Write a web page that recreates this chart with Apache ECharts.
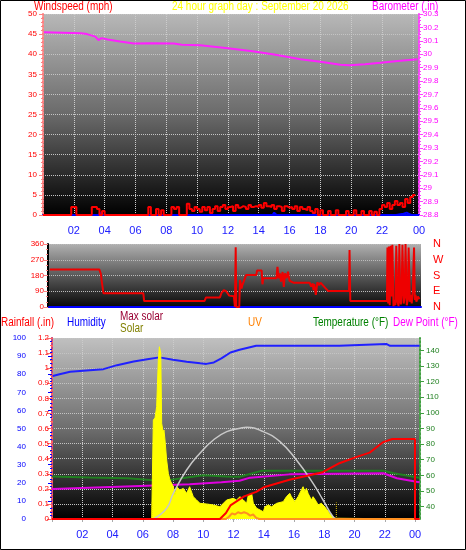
<!DOCTYPE html>
<html><head><meta charset="utf-8">
<script src="https://cdn.jsdelivr.net/npm/echarts@6/dist/echarts.min.js"></script>
<style>html,body{margin:0;padding:0;background:#fff}#c{width:466px;height:550px}</style>
</head><body><div id="c"></div>
<script>
// ---------- tick labels ----------
const hourTickLabels = ['02','04','06','08','10','12','14','16','18','20','22','00'];
const dirLabels = {0:'N',90:'E',180:'S',270:'W',360:'N'};
const tempTicks = [40,50,60,70,80,90,100,110,120,130,140];

// ---------- panel 1: wind speed (10-minute steps from 00:00) and barometer ----------
const windGust = [
 0,0,0,0,0,0,0,0,0,0,0,0,
 2,2,0,0,0,0,0,0,
 2,2,1.5,0,1,0,
 0,0,0,0,0,0,0,0,0,0,0,0,0,0,0,0,
 2,0,0,1.5,0,1.2,0,0,0,
 2,1.5,2,0,0,0,
 2.8,1.5,1,2,1.5,0.8,2,1.2,2,0.5,1.5,2.2,1,2,2.5,1.5,2,2.2,1,2.5,1.8,2.2,2,1.5,2.5,2,2.2,
 2,2.5,1.8,3,2.2,2,2.5,1.5,2.2,2,1,2.2,1.8,2,1.5,2.2,1,2,1.5,1.2,2,1,0.5,1.5,
 0,1.2,0,0,1,0,0,1.2,0,0,0,1,0,0,1.2,0,0,1,0,0,1,0,0.8,0,
 1.5,2.5,2,3,1.5,2.5,3.5,2.5,3,2,4,3,4.5,5
];
const windAvg = [[0,0],[3.6,0],[3.75,0.5],[3.9,0],[14.9,0],[15.0,0.6],[15.15,0],[22.7,0],[22.8,0.3],[22.9,0],[23.4,0.3],[23.6,0.6],[23.75,0.3],[23.9,0],[24.3,0]];
const barometer = [[0.06,30.163],[2.46,30.157],[2.85,30.15],[3.4,30.131],[3.6,30.105],[3.8,30.12],[4.2,30.109],[5.0,30.094],[5.9,30.079],[7.0,30.082],[8.5,30.079],[9.0,30.071],[10.2,30.067],[11.1,30.056],[12.0,30.045],[13.6,30.022],[14.9,30.0],[16.0,29.977],[16.7,29.962],[18.0,29.944],[19.3,29.921],[19.9,29.917],[20.9,29.925],[21.9,29.936],[23.2,29.951],[24.3,29.962]];

// ---------- panel 2: wind direction ----------
const windDir = [[0.5,215],[3.7,215],[3.8,190],[3.85,154],[3.97,78],[6.55,78],[6.6,34],[10.5,34],[10.6,55],[11.5,55],[11.6,80],[11.75,97],[11.9,90],[12.1,65],[12.4,62],[12.47,0],[12.52,341],[12.56,0],[12.75,0],[12.8,154],[12.9,105],[12.95,125],[13.05,117],[13.2,183],[13.85,183],[13.9,208],[14.2,208],[14.25,130],[14.3,164],[15.15,164],[15.22,230],[15.3,164],[15.38,192],[15.45,145],[15.55,200],[15.63,115],[15.7,192],[15.8,164],[15.9,202],[16.0,150],[16.25,139],[17.3,139],[17.4,116],[17.5,135],[17.55,97],[17.6,130],[17.7,69],[17.8,141],[17.9,125],[18.0,139],[18.1,135],[18.5,91],[19.85,91],[19.88,326],[19.93,34],[22.3,34],[22.33,340],[22.38,20],[22.42,345],[22.48,10],[22.55,350],[22.6,60],[22.65,355],[22.72,5],[22.8,40],[22.85,10],[22.9,350],[22.98,30],[23.05,5],[23.1,360],[23.15,50],[23.2,15],[23.25,80],[23.3,355],[23.38,20],[23.45,60],[23.5,360],[23.58,10],[23.65,45],[23.7,340],[23.78,30],[23.85,70],[23.9,20],[23.97,90],[24.05,340],[24.1,40],[24.15,70],[24.2,30],[24.3,60],[24.4,45]];

// ---------- panel 3 ----------
const humidity = [[0.05,79],[0.5,80],[1.2,81.3],[2.5,82.2],[3.4,82.8],[4.3,85],[5.4,87],[6.3,88.3],[7.1,89.3],[8.0,88],[8.9,86.9],[9.8,86],[10.2,85.7],[10.7,86.5],[11.2,88.7],[11.8,92],[12.4,93.5],[13.5,95.7],[19.0,95.7],[19.05,96.7],[22.1,96.7],[22.35,95.7],[24.3,95.7]];
const temperature = [[0,59.3],[2.5,58.6],[5,58.1],[6.5,57],[7.5,56.6],[8.8,58.5],[10,60],[11.5,59.3],[12.4,59.1],[13.9,63],[21.9,63],[22.6,61.3],[24.1,58.7],[24.3,58.5]];
const dewPoint = [[0,51.2],[5.8,53.2],[9.1,54.2],[11.2,55.5],[12.4,56.5],[13.1,58.5],[15.7,60.6],[21.9,61.3],[22.8,58.1],[24.1,55.9],[24.3,55.6]];
const rainfall = [[0,0],[11.1,0],[11.5,0.04],[11.8,0.09],[12.4,0.13],[12.7,0.15],[13.5,0.18],[14.0,0.21],[15.7,0.26],[17.9,0.31],[19.0,0.37],[20.1,0.41],[21.0,0.44],[21.9,0.51],[22.5,0.53],[24.0,0.53],[24.0,0],[24.3,0]];
const solar = [[0,0],[6.59,0],[6.7,656],[6.81,670],[6.92,745],[7.03,1054],[7.1,1142],[7.19,1099],[7.25,635],[7.36,568],[7.4,590],[7.47,524],[7.58,391],[7.69,303],[7.8,259],[8.02,214],[8.13,159],[8.24,214],[8.46,192],[8.68,203],[8.9,170],[9.1,214],[9.34,148],[9.56,126],[9.78,104],[10.2,100],[10.67,93],[11.1,81],[11.55,126],[11.99,137],[12.2,126],[12.43,148],[12.65,126],[12.87,104],[12.98,159],[13.2,170],[13.31,104],[13.53,71],[13.75,60],[13.97,48],[14.08,81],[14.3,93],[14.52,81],[14.85,104],[15.29,115],[15.5,148],[15.72,170],[15.83,148],[16.05,115],[16.27,148],[16.49,192],[16.6,214],[16.71,181],[16.82,203],[16.93,170],[17.15,126],[17.26,148],[17.48,115],[17.59,93],[17.81,104],[18.03,81],[18.36,38],[18.69,5],[18.8,0],[24.3,0]];
const maxSolar = [[6.7,0],[7.58,71],[8.02,170],[8.9,325],[9.78,436],[10.67,524],[11.55,579],[12.43,601],[12.87,608],[13.97,579],[15.07,513],[16.16,391],[17.26,236],[17.92,126],[18.58,15],[18.8,0]];
const uvIndex = [[0,0],[11.5,0],[11.7,0.2],[11.9,0.5],[12.1,0.4],[12.3,0.6],[12.5,0.5],[12.7,0.6],[12.9,0.5],[13.1,0.3],[13.3,0.4],[13.5,0.1],[13.7,0],[24.3,0]];
const sunrise = [[6.6,0],[6.6,110]];
const sunset = [[18.8,0],[18.8,110]];

// ---------- build ----------
const FF = 'Liberation Sans';
const windPts = windGust.map((v,i)=>[i/6, v]);
function bg(top, mid, bot){
  return new echarts.graphic.LinearGradient(0,0,0,1,[{offset:0,color:top},{offset:0.5,color:mid},{offset:1,color:bot}]);
}
const dotted = c => ({show:true, lineStyle:{color:c, type:'dotted', width:1}});
const hourFmt = v => (v===0 ? '' : hourTickLabels[Math.round(v/2)-1] || '');

const chart = echarts.init(document.getElementById('c'), null, {renderer:'canvas'});
const txt = (t,x,y,c) => ({type:'text', x:x, y:y, scaleX:0.83, z:50,
  style:{text:t, fill:c, fontSize:12, fontFamily:FF, verticalAlign:'middle', align:'left'}});
chart.setOption({
  animation:false,
  backgroundColor:'#fff',
  textStyle:{fontFamily:FF},
  grid:[
    {left:43, top:14, width:376, height:201, show:true, borderWidth:0, backgroundColor:bg('#b8b8b8','#6a6a6a','#000000')},
    {left:49, top:244, width:372, height:63, show:true, borderWidth:0, backgroundColor:bg('#b0b0b0','#5a5a5a','#080808')},
    {left:52, top:338, width:368, height:181, show:true, borderWidth:0, backgroundColor:bg('#c0c0c0','#6e6e6e','#000000')}
  ],
  graphic:[
    {type:'rect', shape:{x:0.5,y:0.5,width:465,height:549}, style:{fill:'none', stroke:'#000', lineWidth:1}, z:100},
    txt('Windspeed (mph)',34,7,'#ff0000'),
    txt('24 hour graph day : September 20 2026',172,7,'#ffff00'),
    txt('Barometer (.in)',372,7,'#ff00ff'),
    txt('Rainfall (.in)',1,323,'#ff0000'),
    txt('Humidity',67,323,'#0000ff'),
    txt('Max solar',120,317,'#990033'),
    txt('Solar',120,329,'#808000'),
    txt('UV',248,323,'#ff8000'),
    txt('Temperature (°F)',313,323,'#008000'),
    txt('Dew Point (°F)',393,323,'#ff00ff')
  ],
  xAxis:[
    {gridIndex:0, type:'value', min:0, max:24.4, interval:2, offset:2,
     axisLine:{show:true, lineStyle:{color:'#0000ff', width:2}}, axisTick:{show:false},
     axisLabel:{formatter:hourFmt, color:'#2020ff', fontSize:11, margin:8, showMaxLabel:true},
     splitLine:dotted('#cccccc')},
    {gridIndex:1, type:'value', min:0.45, max:24.5,
     axisLine:{show:true, lineStyle:{color:'#0000ff', width:2}}, axisTick:{show:false},
     axisLabel:{show:false}, splitLine:{show:false}},
    {gridIndex:2, type:'value', min:0, max:24.33, interval:2,
     axisLine:{show:false}, axisTick:{show:true, length:3, lineStyle:{color:'#aaaaaa'}},
     axisLabel:{formatter:hourFmt, color:'#2020ff', fontSize:11, margin:10},
     splitLine:dotted('#cccccc')}
  ],
  yAxis:[
    {gridIndex:0, type:'value', min:0, max:50, interval:5, position:'left', offset:2,
     axisLine:{show:true, lineStyle:{color:'#ff8080', type:'dotted', width:2}},
     axisTick:{show:true, length:4, lineStyle:{color:'#ff8080'}},
     minorTick:{show:true, splitNumber:5, length:2, lineStyle:{color:'#ff8080'}},
     axisLabel:{color:'#ff0000', fontSize:8, margin:4},
     splitLine:dotted('#c4c4c4')},
    {gridIndex:0, type:'value', min:28.8, max:30.3, interval:0.1, position:'right',
     axisLine:{show:true, lineStyle:{color:'#ff40ff', type:'dotted', width:2}},
     axisTick:{show:true, length:4, lineStyle:{color:'#ff40ff'}},
     minorTick:{show:true, splitNumber:4, length:2, lineStyle:{color:'#ff40ff'}},
     axisLabel:{color:'#ff00ff', fontSize:8, margin:4}, splitLine:{show:false}},
    {gridIndex:1, type:'value', min:0, max:360, interval:90, position:'left', offset:1,
     axisLine:{show:true, lineStyle:{color:'#000000', width:2}},
     axisTick:{show:true, length:4, lineStyle:{color:'#ff8080'}},
     minorTick:{show:true, splitNumber:3, length:2, lineStyle:{color:'#ff8080'}},
     axisLabel:{color:'#ff0000', fontSize:8, margin:4},
     splitLine:dotted('#bbbbbb')},
    {gridIndex:1, type:'value', min:0, max:360, interval:90, position:'right',
     axisLine:{show:false}, axisTick:{show:false},
     axisLabel:{color:'#ff0000', fontSize:11, margin:12, formatter:v=>dirLabels[v]||''},
     splitLine:{show:false}},
    {gridIndex:2, type:'value', min:0, max:100, interval:10, position:'left', offset:22,
     axisLine:{show:true, lineStyle:{color:'#0000ff', width:2}},
     axisTick:{show:true, length:4, lineStyle:{color:'#0000ff'}},
     minorTick:{show:true, splitNumber:5, length:2, lineStyle:{color:'#0000ff'}},
     axisLabel:{color:'#0000ff', fontSize:8, margin:4}, splitLine:{show:false}},
    {gridIndex:2, type:'value', min:0, max:1.2, interval:0.1, position:'left', offset:0,
     axisLine:{show:true, lineStyle:{color:'#ff6060', type:'dotted', width:2}},
     axisTick:{show:true, length:5, lineStyle:{color:'#ff6060'}},
     minorTick:{show:true, splitNumber:2, length:2, lineStyle:{color:'#ff6060'}},
     axisLabel:{color:'#ff0000', fontSize:8, margin:3},
     splitLine:dotted('#c4c4c4')},
    {gridIndex:2, type:'value', min:32, max:148, position:'right',
     axisLine:{show:true, lineStyle:{color:'#40a040', type:'dotted', width:2}},
     axisTick:{show:true, length:4, customValues:tempTicks, lineStyle:{color:'#40a040'}},
     axisLabel:{color:'#208020', fontSize:8, margin:6, customValues:tempTicks},
     splitLine:{show:false}},
    {gridIndex:2, type:'value', min:0, max:1200, show:false},
    {gridIndex:2, type:'value', min:0, max:16, show:false}
  ],
  series:[
    {type:'line', xAxisIndex:0, yAxisIndex:0, data:windAvg, showSymbol:false, lineStyle:{color:'#0000ff', width:2}, z:2},
    {type:'line', xAxisIndex:0, yAxisIndex:0, data:windPts, step:'start', showSymbol:false, lineStyle:{color:'#ff0000', width:2}, z:3},
    {type:'line', xAxisIndex:0, yAxisIndex:1, data:barometer, showSymbol:false, lineStyle:{color:'#ff20ff', width:2}, z:4},
    {type:'line', xAxisIndex:1, yAxisIndex:2, data:windDir, showSymbol:false, lineStyle:{color:'#ee0000', width:2}, z:3},
    {type:'line', xAxisIndex:2, yAxisIndex:4, data:humidity, showSymbol:false, lineStyle:{color:'#2020ff', width:2}, z:2},
    {type:'line', xAxisIndex:2, yAxisIndex:6, data:temperature, showSymbol:false, lineStyle:{color:'#208020', width:2}, z:2},
    {type:'line', xAxisIndex:2, yAxisIndex:6, data:dewPoint, showSymbol:false, lineStyle:{color:'#e000e0', width:2}, z:2},
    {type:'line', xAxisIndex:2, yAxisIndex:7, data:solar, showSymbol:false, lineStyle:{color:'#ffff00', width:1}, areaStyle:{color:'#ffff00', opacity:1}, z:3},
    {type:'line', xAxisIndex:2, yAxisIndex:7, data:sunrise, showSymbol:false, lineStyle:{color:'#e0c000', width:1, type:'dotted'}, z:3},
    {type:'line', xAxisIndex:2, yAxisIndex:7, data:sunset, showSymbol:false, lineStyle:{color:'#e0c000', width:1, type:'dotted'}, z:3},
    {type:'line', xAxisIndex:2, yAxisIndex:7, data:maxSolar, showSymbol:false, smooth:true, lineStyle:{color:'#c8c8c8', width:1.5}, z:4},
    {type:'line', xAxisIndex:2, yAxisIndex:8, data:uvIndex, showSymbol:false, lineStyle:{color:'#ff9020', width:2}, z:4},
    {type:'line', xAxisIndex:2, yAxisIndex:5, data:rainfall, showSymbol:false, lineStyle:{color:'#ff0000', width:2}, z:5}
  ]
});
</script></body></html>
